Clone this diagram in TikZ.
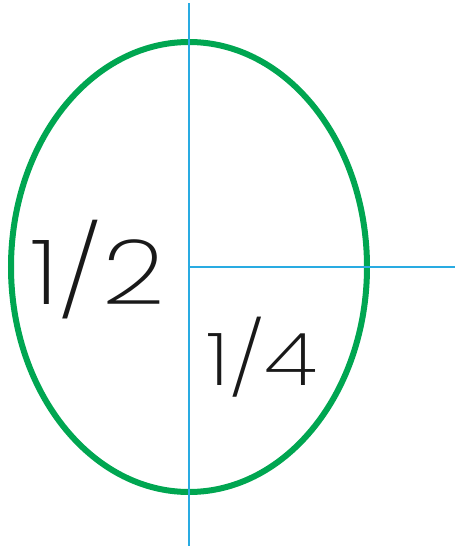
\documentclass[tikz,border=0pt]{standalone}
\usepackage{fontspec}
\newfontfamily\handfont{Poppins ExtraLight}
\usetikzlibrary{shapes.geometric}
\definecolor{ovalgreen}{HTML}{00A651}
\definecolor{axisblue}{HTML}{29ABE2}

\begin{document}
\begin{tikzpicture}[
    x=1pt,y=-1pt,
    oval/.style={
        draw=ovalgreen,
        ellipse,
        line width=6pt,
        minimum width=356pt,
        minimum height=450pt,
        inner sep=0pt
    },
    axis/.style={draw=axisblue,line width=1.3pt},
    frac/.style={text=black!90, inner sep=0pt, xscale=1.22}
]
\useasboundingbox (0,0) rectangle (455,546);

\node[oval] (egg) at (189,267) {};

\coordinate (top) at (189,3);
\coordinate (bottom) at (189,546);
\coordinate (right) at (455,267);

\draw[axis] (top) -- (bottom);
\draw[axis] (egg.center) -- (right);

\node[frac,font=\handfont\fontsize{90}{90}\selectfont] (half) at (98,270) {1/2};
\node[frac,font=\handfont\fontsize{73}{73}\selectfont] (quarter) at (262,357) {1/4};
\end{tikzpicture}
\end{document}
